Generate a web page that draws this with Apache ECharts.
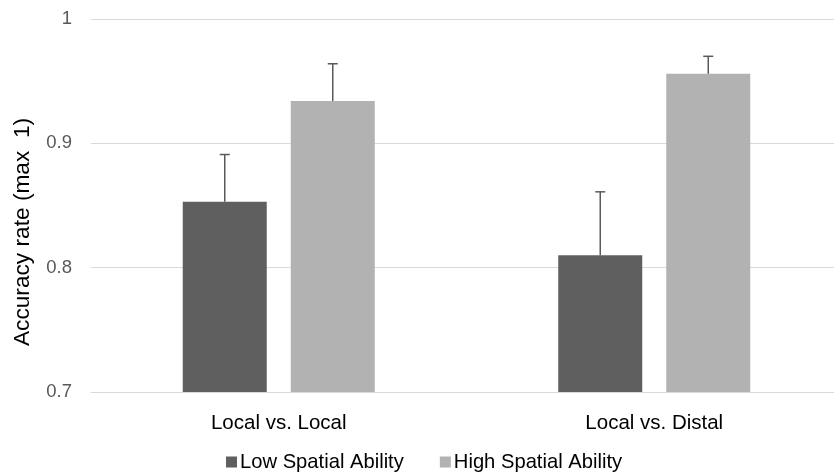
<!DOCTYPE html>
<html>
<head>
<meta charset="utf-8">
<script src="https://cdn.jsdelivr.net/npm/echarts@6/dist/echarts.min.js"></script>
<style>html,body{margin:0;padding:0;background:#fff;overflow:hidden;width:834px;height:473px;}#c{width:842px;height:473px;}</style>
</head>
<body>
<div id="c"></div>
<script>
const categories = ['Local vs. Local', 'Local vs. Distal'];
const seriesNames = ['Low Spatial Ability', 'High Spatial Ability'];
const lowValues = [0.853, 0.810];
const highValues = [0.934, 0.956];
const lowErrors = [0.038, 0.051];
const highErrors = [0.030, 0.014];
const yMin = 0.7, yMax = 1, yInterval = 0.1;

const BAR_W = 84, GAP_PX = 24;
const font = 'Liberation Sans, Arial, Helvetica, sans-serif';

function errSeries(values, errors, sign) {
  return {
    type: 'custom',
    z: 5,
    silent: true,
    clip: false,
    data: values.map((v, i) => [i, v, errors[i]]),
    encode: { x: 0, y: 1 },
    renderItem: function (params, api) {
      const c = api.value(0), v = api.value(1), e = api.value(2);
      const off = sign * (BAR_W + GAP_PX) / 2;
      const p0 = api.coord([c, v]);
      const p1 = api.coord([c, v + e]);
      const x = p0[0] + off;
      const style = { stroke: '#595959', lineWidth: 1.5 };
      return {
        type: 'group',
        children: [
          { type: 'line', shape: { x1: x, y1: p0[1], x2: x, y2: p1[1] }, style: style },
          { type: 'line', shape: { x1: x - 5, y1: p1[1], x2: x + 5, y2: p1[1] }, style: style }
        ]
      };
    }
  };
}

const chart = echarts.init(document.getElementById('c'));
chart.setOption({
  animation: false,
  backgroundColor: '#fff',
  grid: { left: 91, top: 19, bottom: 81, right: 0 },
  legend: {
    data: seriesNames,
    top: 452,
    left: 226,
    padding: 0,
    icon: 'rect',
    itemWidth: 11,
    itemHeight: 11,
    itemGap: 36,
    textStyle: { fontFamily: font, fontSize: 20.2, color: '#000', padding: [0, 0, 0, -2] }
  },
  xAxis: {
    type: 'category',
    data: categories,
    axisLine: { lineStyle: { color: '#d9d9d9', width: 1 } },
    axisTick: { show: false },
    axisLabel: { fontFamily: font, fontSize: 20.5, color: '#000', margin: 21 }
  },
  yAxis: {
    type: 'value',
    min: yMin, max: yMax, interval: yInterval,
    axisLine: { show: false },
    axisTick: { show: false },
    splitLine: { lineStyle: { color: '#d9d9d9', width: 1 } },
    axisLabel: { fontFamily: font, fontSize: 18.5, color: '#595959', margin: 19 }
  },
  graphic: [{
    type: 'text',
    x: 23, y: 232,
    rotation: Math.PI / 2,
    style: {
      text: 'Accuracy rate (max  1)',
      fontFamily: font, fontSize: 22.7, fill: '#000',
      align: 'center', verticalAlign: 'middle'
    }
  }],
  series: [
    { name: seriesNames[0], type: 'bar', data: lowValues, barWidth: BAR_W, barGap: (GAP_PX / BAR_W * 100) + '%', itemStyle: { color: '#5f5f5f' } },
    { name: seriesNames[1], type: 'bar', data: highValues, barWidth: BAR_W, itemStyle: { color: '#b2b2b2' } },
    errSeries(lowValues, lowErrors, -1),
    errSeries(highValues, highErrors, 1)
  ]
});
</script>
</body>
</html>
